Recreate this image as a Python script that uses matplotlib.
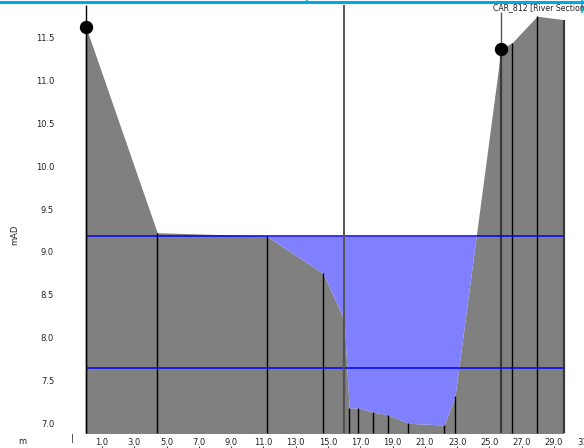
import matplotlib
matplotlib.use("Agg")
import matplotlib.pyplot as plt
import matplotlib.transforms as mtransforms
import numpy as np

# ---- data ----
station_x = [0.0, 4.42, 11.2, 14.69, 16.0, 16.31, 16.86, 17.79, 18.72, 19.96,
             22.19, 22.87, 25.72, 26.4, 27.95, 29.62]
ground_z = [11.625, 9.224, 9.186, 8.75, 8.21, 7.18, 7.18, 7.13, 7.10, 7.00,
            6.98, 7.32, 11.37, 11.44, 11.75, 11.71]
water_level = 9.182
lower_level = 7.65
centre_x = 16.0
bank_x = [0.0, 25.72]
bank_z = [11.625, 11.37]
dark_stations = [16.0, 25.72, 29.62]
x_ticks = [1, 3, 5, 7, 9, 11, 13, 15, 17, 19, 21, 23, 25, 27, 29, 31]
y_ticks = [7.0, 7.5, 8.0, 8.5, 9.0, 9.5, 10.0, 10.5, 11.0, 11.5]
section_label = "CAR_812 [River Section]"

W, H = 584, 448
fig = plt.figure(figsize=(W / 100, H / 100), dpi=100)
ax = fig.add_axes([60.07 / W, 14.5 / H, 534.3 / W, 428.5 / H])
ax.set_xlim(-1.6, 31.5)
ax.set_ylim(6.881, 11.881)
for s in ax.spines.values():
    s.set_visible(False)

xs = np.array(station_x)
zs = np.array(ground_z)
ybot = ax.get_ylim()[0]
ytop = ax.get_ylim()[1]

# ground fill
ax.fill_between(xs, ybot, zs, color="#808080", lw=0, zorder=1)
# water fill
ax.fill_between(xs, zs, water_level, where=zs < water_level, interpolate=True,
                color="#8080ff", lw=0, zorder=2)

# station lines
for x, z in zip(station_x, ground_z):
    if x in dark_stations:
        ax.vlines(x, ybot, z, color="#3a3a3a", lw=1.6, zorder=3)
    else:
        ax.vlines(x, ybot, z, color="black", lw=1.0, zorder=3)

# water level lines
ax.hlines([water_level, lower_level], station_x[0], station_x[-1], color="#0000ff", lw=1.1, zorder=4)

# centre line and left bank line
ax.vlines(centre_x, ybot, ytop, color="#555555", lw=1.4, zorder=5)
ax.vlines(station_x[0], ybot, ytop, color="black", lw=1.0, zorder=5)
# leader line to label
ax.vlines(bank_x[1], bank_z[1], 11.8, color="#555555", lw=1.0, zorder=5)

# bank markers
ax.plot(bank_x, bank_z, "o", color="black", ms=8.6, zorder=6)

# ticks
ax.set_xticks(x_ticks)
ax.set_xticklabels([f"{v:.1f}" for v in x_ticks])
ax.set_yticks(y_ticks)
ax.set_yticklabels([f"{v:.1f}" for v in y_ticks])
ax.tick_params(axis="both", length=0, labelsize=6, labelcolor="#222222")
ax.tick_params(axis="x", pad=3)
ax.tick_params(axis="y", pad=4.3)
trans = mtransforms.blended_transform_factory(ax.transData, ax.transAxes)
ax.vlines(x_ticks, -0.034, -0.029, transform=trans, color="#444444", lw=0.8, clip_on=False)

# labels
fig.text(15 / W, 1 - 235 / H, "mAD", rotation=90, fontsize=6, ha="center", va="center", color="#222222")
fig.text(22 / W, 1 - 441 / H, "m", fontsize=6, ha="center", va="center", color="#222222")
fig.text(72 / W, 1 - 438 / H, "|", fontsize=6, ha="center", va="center", color="#222222")
fig.text(493 / W, 1 - 8 / H, section_label, fontsize=5.6, ha="left", va="center", color="#222222")

# top bar
fig.add_artist(plt.Line2D([0, 1], [1 - 2 / H, 1 - 2 / H], color="#00a8e0", lw=2.2, transform=fig.transFigure))
fig.add_artist(plt.Line2D([307 / W, 307 / W], [1, 1 - 3 / H], color="#00a8e0", lw=1.2, transform=fig.transFigure))
fig.add_artist(plt.Line2D([582 / W, 582 / W], [1, 1 - 12 / H], color="#00a8e0", lw=1.2, transform=fig.transFigure))

fig.savefig("out.png", dpi=100)
